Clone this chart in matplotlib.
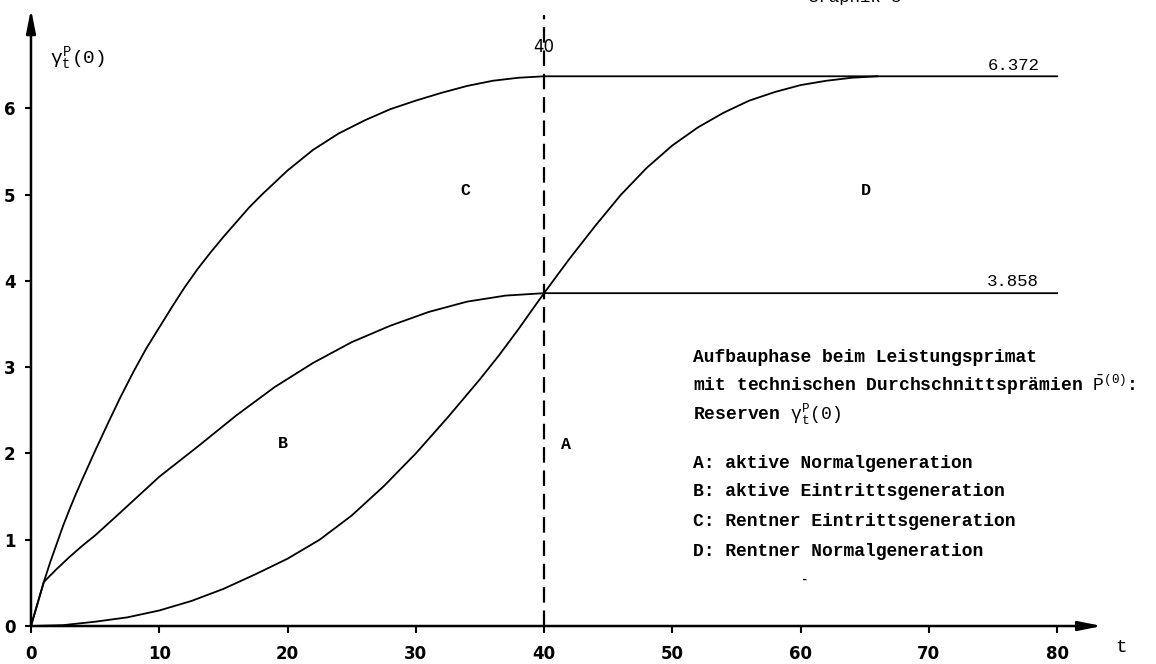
import numpy as np
import matplotlib
matplotlib.use("Agg")
import matplotlib.pyplot as plt

plt.rcParams['font.family'] = ['Liberation Mono', 'DejaVu Sans']
plt.rcParams['mathtext.fontset'] = 'custom'
plt.rcParams['mathtext.rm'] = 'Liberation Mono'
plt.rcParams['mathtext.it'] = 'Liberation Mono'
plt.rcParams['mathtext.bf'] = 'Liberation Mono:bold'

t_C = [0, 1, 1.5, 2, 2.5, 3, 3.5, 4, 5, 6, 7, 8, 9, 10, 11, 12, 13, 14, 15, 16, 17,
       18, 19, 20, 22, 24, 26, 28, 30, 32, 34, 36, 38, 40, 80]
y_C = [0, 0.51, 0.74, 0.95, 1.16, 1.35, 1.53, 1.70, 2.03, 2.35, 2.66, 2.95, 3.22,
       3.46, 3.70, 3.93, 4.14, 4.33, 4.51, 4.68, 4.85, 5.00, 5.14, 5.28, 5.52, 5.71,
       5.86, 5.99, 6.09, 6.18, 6.26, 6.32, 6.355, 6.372, 6.372]

t_B = [0, 1, 2, 3, 4, 5, 7, 10, 13, 16, 19, 22, 25, 28, 31, 34, 37, 40, 80]
y_B = [0, 0.51, 0.66, 0.80, 0.93, 1.05, 1.32, 1.73, 2.08, 2.44, 2.77, 3.05, 3.29,
       3.48, 3.64, 3.76, 3.83, 3.858, 3.858]

t_AD = [0, 2.5, 5, 7.5, 10, 12.5, 15, 17.5, 20, 22.5, 25, 27.5, 30, 32.5, 35, 36.5,
        38, 39, 40, 41, 42, 43, 44, 46, 48, 50, 52, 54, 56, 58, 60, 62, 64, 66]
y_AD = [0, 0.01, 0.05, 0.10, 0.18, 0.29, 0.43, 0.60, 0.78, 1.00, 1.28, 1.62, 2.00,
        2.42, 2.86, 3.14, 3.44, 3.65, 3.858, 4.06, 4.26, 4.45, 4.64, 5.00, 5.31,
        5.57, 5.78, 5.95, 6.09, 6.19, 6.27, 6.32, 6.355, 6.372]

x_ticks = [0, 10, 20, 30, 40, 50, 60, 70, 80]
y_ticks = [0, 1, 2, 3, 4, 5, 6]
endwerte = [6.372, 3.858]
t_grenze = 40

legende = [
    "Aufbauphase beim Leistungsprimat",
    r"mit technischen Durchschnittsprämien $\bar{P}^{(0)}$:",
    r"Reserven $\gamma^{P}_{t}(0)$",
    "A: aktive Normalgeneration",
    "B: aktive Eintrittsgeneration",
    "C: Rentner Eintrittsgeneration",
    "D: Rentner Normalgeneration",
]

xmax, ymax = 83.5, 7.15

fig = plt.figure(figsize=(11.56, 6.64), dpi=100)
ax = fig.add_axes([0.0268, 0.0572, 0.9265, 0.929])
ax.set_xlim(0, xmax)
ax.set_ylim(0, ymax)

lw = 1.3
ax.plot(t_C, y_C, color='black', lw=lw)
ax.plot(t_B, y_B, color='black', lw=lw)
ax.plot(t_AD, y_AD, color='black', lw=lw)
ax.plot([t_grenze, t_grenze], [0, 7.08], color='black', lw=1.6, dashes=(7, 3.5))

for spine in ax.spines.values():
    spine.set_visible(False)

# Achsen mit Pfeilen
arrow = dict(arrowstyle='-|>,head_length=1.4,head_width=0.28', color='black',
             lw=1.8, mutation_scale=10, shrinkA=0, shrinkB=0)
ax.annotate('', xy=(xmax, 0), xytext=(0, 0), arrowprops=arrow, annotation_clip=False)
ax.annotate('', xy=(0, ymax), xytext=(0, 0), arrowprops=arrow, annotation_clip=False)

ax.set_xticks(x_ticks)
ax.set_yticks(y_ticks)
ax.tick_params(axis='x', direction='out', length=5, width=1.5, pad=9)
ax.tick_params(axis='y', direction='out', length=4, width=1.5, pad=7)
for lab in ax.get_xticklabels() + ax.get_yticklabels():
    lab.set_family(['Liberation Sans Narrow', 'DejaVu Sans'])
    lab.set_fontsize(12)
    lab.set_fontweight('bold')

ax.text(85.0, -0.25, 't', fontsize=14, ha='center', va='center')
ax.text(1.5, 6.58, r'$\gamma^{P}_{t}(0)$', fontsize=14, ha='left', va='center')
ax.text(t_grenze, 6.71, '40', fontsize=12, ha='center', va='center',
        family=['Liberation Sans Narrow', 'DejaVu Sans'])

for w in endwerte:
    ax.text(78.6, w + 0.13, f'{w:.3f}', fontsize=12.5, ha='right', va='center')

ax.text(33.9, 5.05, 'C', fontsize=12, fontweight='bold', ha='center', va='center')
ax.text(65.1, 5.05, 'D', fontsize=12, fontweight='bold', ha='center', va='center')
ax.text(19.6, 2.12, 'B', fontsize=12, fontweight='bold', ha='center', va='center')
ax.text(41.7, 2.10, 'A', fontsize=12, fontweight='bold', ha='center', va='center')
ax.text(60.3, 0.53, '-', fontsize=9, fontweight='bold', ha='center', va='center')

y_leg = [357, 385, 414, 463, 492, 522, 551]
for txt, yp in zip(legende, y_leg):
    fig.text(693 / 1156, 1 - yp / 664, txt, fontsize=13, fontweight='bold',
             ha='left', va='center')

fig.text(808 / 1156, 1.004, 'Graphik 5', fontsize=12.5, ha='left', va='center')

fig.savefig('out.png', dpi=100)
